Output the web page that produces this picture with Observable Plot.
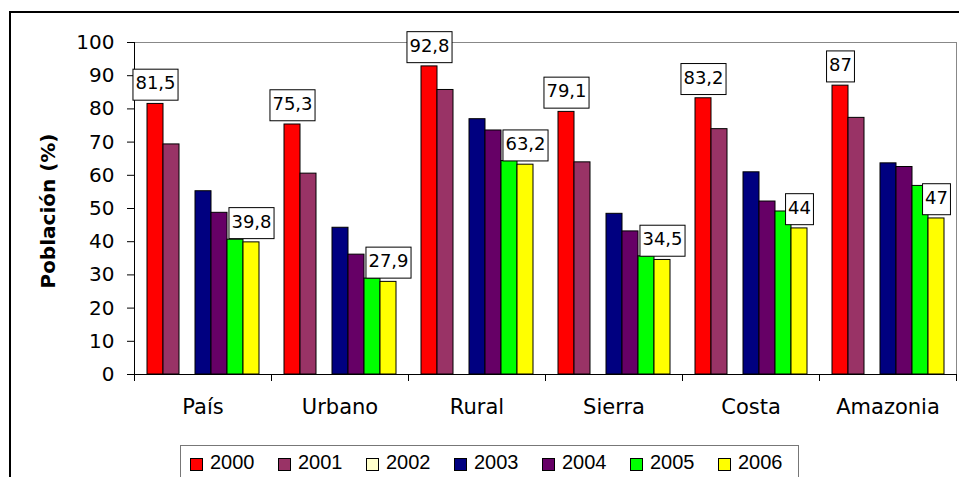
<!DOCTYPE html>
<html>
<head>
<meta charset="utf-8">
<script src="https://cdn.jsdelivr.net/npm/d3@7"></script>
<script src="https://cdn.jsdelivr.net/npm/@observablehq/plot@0.6"></script>
<style>
  html, body { margin: 0; padding: 0; background: #fff; }
  #chart { position: relative; width: 959px; height: 477px; background: #fff; }
  #border { position: absolute; left: 9px; top: 11px; width: 950px; height: 466px; border: 2px solid #000;
            border-right: none; border-bottom: none; box-sizing: border-box; }
  #plot { position: absolute; left: 0; top: 0; width: 959px; height: 440px; }
  #plot g[aria-label="fx-axis tick label"] { font-size: 21px; }
  #ytitle { position: absolute; left: 48px; top: 211px; writing-mode: vertical-rl;
            transform: translate(-50%, -50%) rotate(180deg);
            font: bold 20px "DejaVu Sans", sans-serif; white-space: nowrap; color: #000; }
  #legend { position: absolute; left: 180px; top: 445px; width: 619px; height: 32px; border: 1px solid #777;
            border-bottom: none; box-sizing: border-box; display: flex; align-items: flex-start; padding: 5px 0 0 9px;
            font: 20px "Liberation Sans", Arial, sans-serif; color: #000; }
  .item { width: 88px; height: 24px; display: flex; align-items: center; flex: none; }
  .sw { width: 13px; height: 13px; border: 1px solid #000; box-sizing: border-box; margin-right: 7px; flex: none;
        position: relative; top: 1px; }
  .lab { line-height: 24px; position: relative; top: -1px; }
</style>
</head>
<body>
<div id="chart">
  <div id="border"></div>
  <div id="plot"></div>
  <div id="ytitle">Población (%)</div>
  <div id="legend"></div>
</div>
<script>
// Regions and survey years
const categories = ["País", "Urbano", "Rural", "Sierra", "Costa", "Amazonia"];
const years = ["2000", "2001", "2002", "2003", "2004", "2005", "2006"];
const colors = ["#FF0000", "#993366", "#FFFFCC", "#000080", "#660066", "#00FF00", "#FFFF00"];
const yTicks = [0, 10, 20, 30, 40, 50, 60, 70, 80, 90, 100];

// Population share (%) by region, one array per year (2002 has no data)
const v2000 = [81.5, 75.3, 92.8, 79.1, 83.2, 87];
const v2001 = [69.3, 60.5, 85.7, 63.9, 73.9, 77.3];
const v2002 = [];
const v2003 = [55.2, 44.2, 76.9, 48.4, 60.9, 63.6];
const v2004 = [48.7, 36.1, 73.5, 43.1, 52.1, 62.5];
const v2005 = [40.6, 28.9, 64.3, 35.6, 49.1, 56.8];
const v2006 = [39.8, 27.9, 63.2, 34.5, 44, 47];
const series = [v2000, v2001, v2002, v2003, v2004, v2005, v2006];

// Years whose bars carry a value label
const labelYears = ["2000", "2006"];

const rows = years.flatMap((year, j) =>
  series[j].map((value, i) => ({category: categories[i], year, value}))
).filter(d => d.value != null);
const labelRows = rows.filter(d => labelYears.includes(d.year));
const fmt = v => String(v).replace(".", ",");

const plotHeight = 440, marginTop = 42, marginBottom = 66;
const innerHeight = plotHeight - marginTop - marginBottom;

const chart = Plot.plot({
  width: 959,
  height: plotHeight,
  marginLeft: 133,
  marginRight: 2,
  marginTop,
  marginBottom,
  style: {fontFamily: '"DejaVu Sans", sans-serif', fontSize: "20px", color: "#000", background: "transparent"},
  fx: {domain: categories, padding: 0, label: null, axis: "bottom", tickSize: 0, tickPadding: 25},
  x: {domain: years, paddingInner: 0, paddingOuter: 0.705, axis: null},
  y: {domain: [0, 100], ticks: yTicks, tickSize: 7, tickPadding: 13, label: null},
  color: {domain: years, range: colors},
  marks: [
    Plot.barY(rows, {fx: "category", x: "year", y: "value", fill: "year", stroke: "#000", strokeWidth: 1}),
    Plot.ruleY([100], {stroke: "#888"}),
    Plot.ruleY([0], {stroke: "#000"}),
    Plot.frame({anchor: "left", facetAnchor: "left", stroke: "#000"}),
    Plot.frame({anchor: "right", facetAnchor: "right", stroke: "#888"}),
    Plot.frame({anchor: "left", stroke: "#000", insetTop: innerHeight, insetBottom: -6}),
    Plot.frame({anchor: "right", facetAnchor: "right", stroke: "#000", insetTop: innerHeight, insetBottom: -6}),
    Plot.text(labelRows, {fx: "category", x: "year", y: "value", text: d => fmt(d.value),
      dy: -20.5, lineAnchor: "middle", fontSize: 18, fill: "#000"})
  ]
});
document.getElementById("plot").appendChild(chart);

// White boxes behind the value labels
const svgNS = "http://www.w3.org/2000/svg";
chart.querySelectorAll('g[aria-label="text"] text').forEach(t => {
  const b = t.getBBox();
  const w = b.width + 5, h = 31;
  const cx = b.x + b.width / 2, cy = b.y + b.height / 2 + 2;
  const r = document.createElementNS(svgNS, "rect");
  r.setAttribute("x", cx - w / 2);
  r.setAttribute("y", cy - h / 2);
  r.setAttribute("width", w);
  r.setAttribute("height", h);
  r.setAttribute("fill", "#fff");
  r.setAttribute("stroke", "#000");
  r.setAttribute("stroke-width", 1);
  const tr = t.getAttribute("transform");
  if (tr) r.setAttribute("transform", tr);
  t.parentNode.insertBefore(r, t);
});

// Legend
const legend = document.getElementById("legend");
years.forEach((y, i) => {
  const item = document.createElement("div");
  item.className = "item";
  const sw = document.createElement("div");
  sw.className = "sw";
  sw.style.background = colors[i];
  const lab = document.createElement("span");
  lab.className = "lab";
  lab.textContent = y;
  item.append(sw, lab);
  legend.appendChild(item);
});
</script>
</body>
</html>
